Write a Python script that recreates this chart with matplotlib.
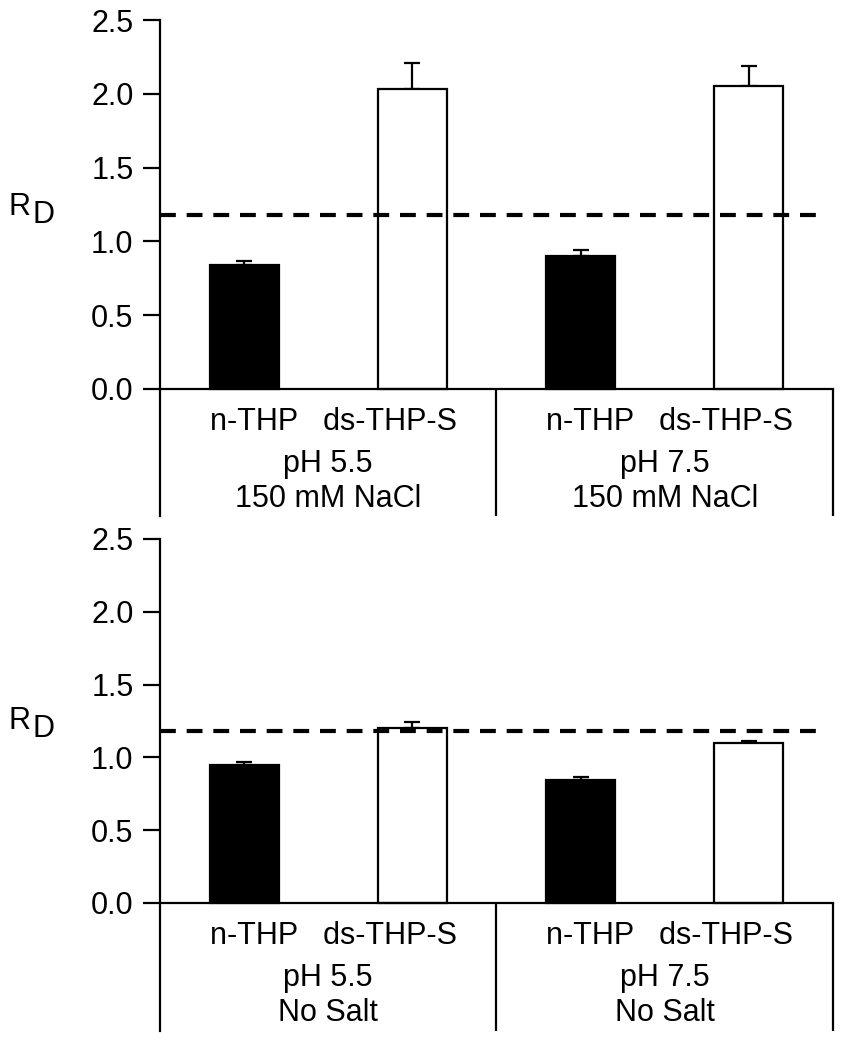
import matplotlib
matplotlib.use("Agg")
import matplotlib.pyplot as plt

plt.rcParams['font.family'] = ['Liberation Sans', 'DejaVu Sans']

# data
kinds = ["n-THP", "ds-THP-S"]
ph_labels = ["pH 5.5", "pH 7.5"]
salt_top = "150 mM NaCl"
salt_bot = "No Salt"

# bars ordered: pH5.5 n-THP, pH5.5 ds-THP-S, pH7.5 n-THP, pH7.5 ds-THP-S
rd_salt = [0.84, 2.03, 0.90, 2.05]
err_salt = [0.03, 0.18, 0.04, 0.14]
rd_nosalt = [0.95, 1.20, 0.845, 1.10]
err_nosalt = [0.015, 0.045, 0.02, 0.012]
ref_line = 1.18

yticks = [0.0, 0.5, 1.0, 1.5, 2.0, 2.5]

W, H = 845, 1050
FS = 22
LW = 1.6


def panel(ax, vals, errs, salt, ybot):
    xs = [0.5, 1.5, 2.5, 3.5]
    colors = ["black", "white", "black", "white"]
    ax.bar(xs, vals, width=0.41, color=colors, edgecolor="black", linewidth=LW, zorder=2)
    ax.errorbar(xs, vals, yerr=[[0] * 4, errs], fmt="none", ecolor="black",
                elinewidth=LW, capsize=5.5, capthick=LW, zorder=1)
    ax.plot([0, 3.92], [ref_line, ref_line], color="black", lw=3,
            dashes=(3.8, 2.6), solid_capstyle="butt", dash_capstyle="butt", zorder=3)

    ax.set_xlim(0, 4)
    ax.set_ylim(ybot, 2.5)
    ax.set_yticks(yticks)
    ax.set_yticklabels(["%.1f" % t for t in yticks])
    ax.set_xticks([])
    for s in ["top", "right", "bottom"]:
        ax.spines[s].set_visible(False)
    ax.spines["left"].set_linewidth(LW)
    ax.tick_params(axis="y", direction="out", length=12, width=LW, pad=7, labelsize=FS)

    # frame below the axis
    ax.plot([0, 4], [0, 0], color="black", lw=LW, clip_on=False, zorder=4)
    ax.vlines([2, 4], ybot, 0, color="black", lw=LW, clip_on=False)

    for g, ph in zip([1, 3], ph_labels):
        ax.annotate("   ".join(kinds), (g + 0.03, 0), xytext=(0, -29.5),
                    textcoords="offset points", ha="center", va="baseline", fontsize=FS)
        ax.annotate(ph, (g, 0), xytext=(0, -59.8),
                    textcoords="offset points", ha="center", va="baseline", fontsize=FS)
        ax.annotate(salt, (g, 0), xytext=(0, -85),
                    textcoords="offset points", ha="center", va="baseline", fontsize=FS)


fig = plt.figure(figsize=(W / 100, H / 100), dpi=100)

x0, x1 = 160, 833
# top panel: 2.5 at 20px, 0 at 389px, bottom at 516px
top_scale = (389 - 20) / 2.5
ax1 = fig.add_axes([x0 / W, 1 - 516 / H, (x1 - x0) / W, (516 - 20) / H])
panel(ax1, rd_salt, err_salt, salt_top, -(516 - 389) / top_scale)

# bottom panel: 2.5 at 539px, 0 at 903px, bottom at 1031px
bot_scale = (903 - 539) / 2.5
ax2 = fig.add_axes([x0 / W, 1 - 1031 / H, (x1 - x0) / W, (1031 - 539) / H])
panel(ax2, rd_nosalt, err_nosalt, salt_bot, -(1031 - 903) / bot_scale)

for rb in [215, 729]:
    fig.text(9 / W, 1 - rb / H, "R", fontsize=FS, ha="left", va="baseline")
    fig.text(33 / W, 1 - (rb + 8) / H, "D", fontsize=FS, ha="left", va="baseline")

fig.savefig("out.png", dpi=100)
